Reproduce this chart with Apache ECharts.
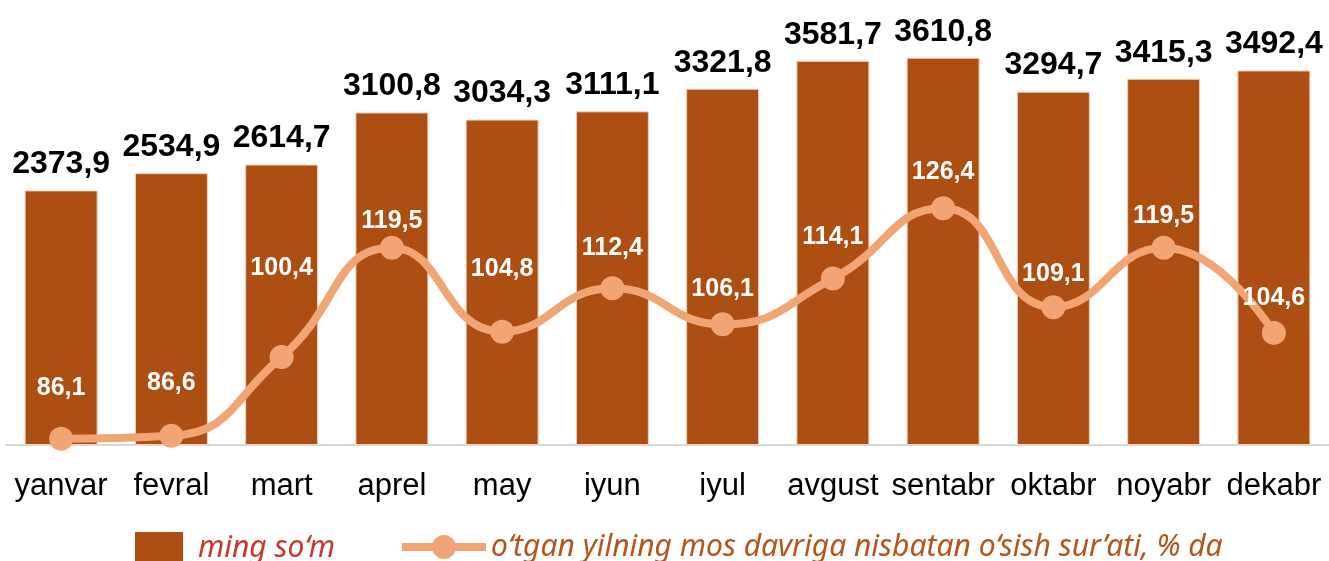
<!DOCTYPE html>
<html>
<head>
<meta charset="utf-8">
<script src="https://cdn.jsdelivr.net/npm/echarts@6/dist/echarts.min.js"></script>
<style>html,body{margin:0;padding:0;background:#fff}#c{width:1329px;height:561px}</style>
</head>
<body>
<div id="c"></div>
<script>
var categories = ['yanvar','fevral','mart','aprel','may','iyun','iyul','avgust','sentabr','oktabr','noyabr','dekabr'];
var salaryValues = [2373.9,2534.9,2614.7,3100.8,3034.3,3111.1,3321.8,3581.7,3610.8,3294.7,3415.3,3492.4];
var growthValues = [86.1,86.6,100.4,119.5,104.8,112.4,106.1,114.1,126.4,109.1,119.5,104.6];
var growthLabelRise = [51,53,89,27,63,40,35,41,36,33,32,35];
var barName = 'ming so\u2018m';
var lineName = 'o\u2018tgan yilning mos davriga nisbatan o\u2018sish sur\u2019ati, % da';

function fmt(v){ return v.toFixed(1).replace('.', ','); }

var chart = echarts.init(document.getElementById('c'), null, {renderer:'canvas'});
var option = {
  animation: false,
  grid: {left: 6, right: 0, top: 16, bottom: 116},
  legend: [
    {left: 135, top: 532, padding: 0, itemWidth: 48, itemHeight: 32, icon: 'rect',
     itemStyle: {borderWidth: 0},
     data: [{name: barName, textStyle: {color: '#C8372D'}}],
     textStyle: {fontFamily: 'Noto Sans', fontStyle: 'italic', fontSize: 30, padding: [0, 0, 0, 10]}},
    {left: 398, top: 532, padding: 0, itemWidth: 84, itemHeight: 30,
     lineStyle: {width: 8},
     data: [{name: lineName, textStyle: {color: '#B5541C'}}],
     textStyle: {fontFamily: 'Noto Sans', fontStyle: 'italic', fontSize: 30}}
  ],
  xAxis: {
    type: 'category', data: categories,
    axisLine: {lineStyle: {color: '#D9D9D9', width: 2}},
    axisTick: {show: false},
    axisLabel: {color: '#000', fontFamily: 'Liberation Sans, Arial', fontSize: 31, margin: 26, interval: 0}
  },
  yAxis: [
    {type: 'value', min: 0, max: 4000, show: false, splitLine: {show: false}},
    {type: 'value', min: 85, max: 160, show: false, splitLine: {show: false}}
  ],
  series: [
    {
      name: barName, type: 'bar', data: salaryValues, barWidth: 73,
      itemStyle: {color: '#AD4E13', borderColor: '#F3D3BE', borderWidth: 1},
      label: {show: true, position: 'top', distance: 10, color: '#000',
        fontFamily: 'Liberation Sans, Arial', fontWeight: 'bold', fontSize: 32,
        formatter: function(p){ return fmt(p.value); }}
    },
    {
      name: lineName, type: 'line', yAxisIndex: 1, smooth: 0.5,
      data: growthValues.map(function(v, i){
        return {value: v, label: {offset: [0, -growthLabelRise[i]]}};
      }),
      symbol: 'circle', symbolSize: 24,
      lineStyle: {color: '#F2A574', width: 8},
      itemStyle: {color: '#F2A574'},
      label: {show: true, position: 'inside', color: '#fff',
        fontFamily: 'Liberation Sans, Arial', fontWeight: 'bold', fontSize: 25,
        formatter: function(p){ return fmt(p.value); }},
      z: 5
    }
  ]
};
chart.setOption(option);
</script>
</body>
</html>
